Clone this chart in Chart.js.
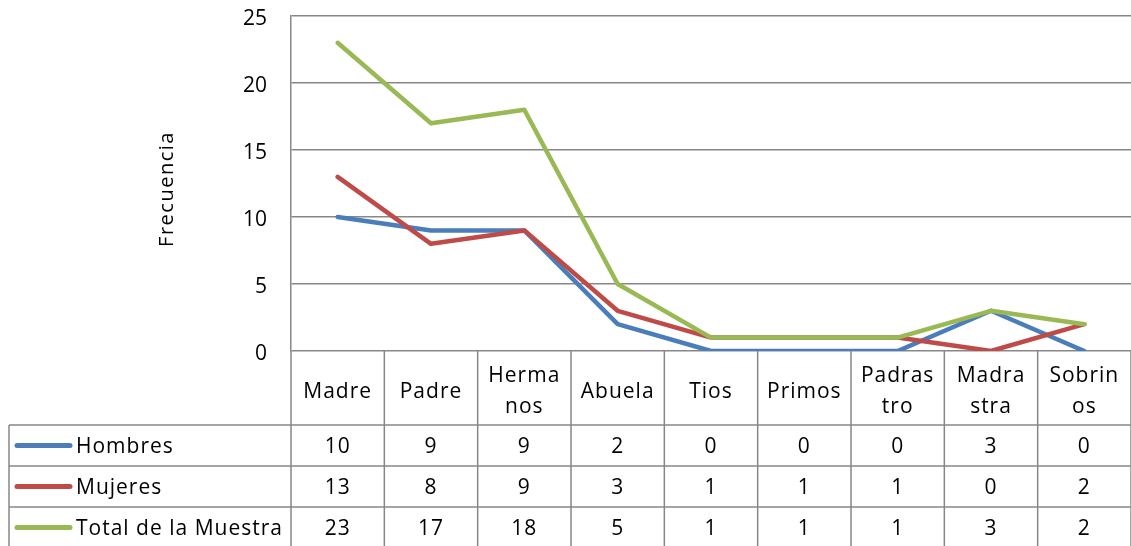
<!DOCTYPE html>
<html>
<head>
<meta charset="utf-8">
<script src="https://cdn.jsdelivr.net/npm/chart.js@4.4.1/dist/chart.umd.min.js"></script>
<style>
  html, body { margin: 0; padding: 0; background: #ffffff; }
  #wrap { width: 1131px; height: 546px; position: relative; }
</style>
</head>
<body>
<div id="wrap"><canvas id="c" width="1131" height="546"></canvas></div>
<script>
// ---- Data ----
const categories = [["Madre"], ["Padre"], ["Herma", "nos"], ["Abuela"], ["Tios"], ["Primos"], ["Padras", "tro"], ["Madra", "stra"], ["Sobrin", "os"]];
const seriesNames = ["Hombres", "Mujeres", "Total de la Muestra"];
const hombres = [10, 9, 9, 2, 0, 0, 0, 3, 0];
const mujeres = [13, 8, 9, 3, 1, 1, 1, 0, 2];
const totalMuestra = [23, 17, 18, 5, 1, 1, 1, 3, 2];
const yTicks = [0, 5, 10, 15, 20, 25];
const yTitle = "Frecuencia";

const colors = ["#4A7EBB", "#BE4B48", "#98B954"];
const seriesValues = [hombres, mujeres, totalMuestra];
const FONT = "'Open Sans', Lato, sans-serif";
const GRID = "#878787";

const tablePlugin = {
  id: "dataTable",
  afterDraw(chart) {
    const ctx = chart.ctx;
    const xs = chart.scales.x;
    const ys = chart.scales.y;
    const area = chart.chartArea;
    const top = ys.getPixelForValue(0);
    const n = categories.length;
    const step = (xs.getPixelForValue(1) - xs.getPixelForValue(0));
    const left = xs.getPixelForValue(0) - step / 2;
    const right = area.right;
    const headerBottom = top + 74;
    const rowH = 41;
    const tableLeft = 9;
    const bottom = chart.height + 2;

    ctx.save();
    ctx.strokeStyle = GRID;
    ctx.lineWidth = 1.5;
    for (let k = 0; k <= n; k++) {
      const x = left + k * step;
      ctx.beginPath();
      ctx.moveTo(x, top);
      ctx.lineTo(x, bottom);
      ctx.stroke();
    }
    ctx.beginPath();
    ctx.moveTo(tableLeft, headerBottom);
    ctx.lineTo(tableLeft, bottom);
    ctx.stroke();
    for (let r = 0; r < 3; r++) {
      const y = headerBottom + r * rowH;
      ctx.beginPath();
      ctx.moveTo(tableLeft, y);
      ctx.lineTo(right, y);
      ctx.stroke();
    }

    ctx.fillStyle = "#000";
    ctx.font = "21px " + FONT;
    try { ctx.letterSpacing = "1px"; } catch (e) {}
    ctx.textAlign = "center";
    ctx.textBaseline = "middle";
    const hc = top + 41;
    const lh = 31;
    categories.forEach((lines, i) => {
      const x = xs.getPixelForValue(i);
      const y0 = hc - (lines.length - 1) * lh / 2;
      lines.forEach((t, j) => ctx.fillText(t, x, y0 + j * lh));
    });

    seriesNames.forEach((name, r) => {
      const yc = headerBottom + r * rowH + rowH / 2;
      ctx.strokeStyle = colors[r];
      ctx.lineWidth = 5;
      ctx.lineCap = "round";
      ctx.beginPath();
      ctx.moveTo(17, yc);
      ctx.lineTo(70, yc);
      ctx.stroke();
      ctx.fillStyle = "#000";
      ctx.textAlign = "left";
      ctx.fillText(name, 76, yc + 2);
      ctx.textAlign = "center";
      seriesValues[r].forEach((v, i) => {
        ctx.fillText(String(v), xs.getPixelForValue(i), yc + 2);
      });
    });

    ctx.save();
    ctx.translate(167, 189);
    ctx.rotate(-Math.PI / 2);
    ctx.font = "20px " + FONT;
    try { ctx.letterSpacing = "1.5px"; } catch (e) {}
    ctx.textAlign = "center";
    ctx.textBaseline = "middle";
    ctx.fillStyle = "#000";
    ctx.fillText(yTitle, 0, 0);
    ctx.restore();

    ctx.restore();
  }
};

const bgPlugin = {
  id: "bg",
  beforeDraw(chart) {
    const ctx = chart.ctx;
    ctx.save();
    ctx.fillStyle = "#fff";
    ctx.fillRect(0, 0, chart.width, chart.height);
    ctx.restore();
  }
};

new Chart(document.getElementById("c"), {
  type: "line",
  data: {
    labels: categories.map(l => l.join("")),
    datasets: seriesNames.map((name, i) => ({
      label: name,
      data: seriesValues[i],
      borderColor: colors[i],
      backgroundColor: colors[i],
      borderWidth: 4.5,
      pointRadius: 0,
      tension: 0,
      borderCapStyle: "round",
      borderJoinStyle: "round",
      order: 2 - i
    }))
  },
  options: {
    responsive: false,
    animation: false,
    layout: { padding: { top: 16, bottom: 195, left: 0, right: 0 } },
    plugins: { legend: { display: false }, tooltip: { enabled: false } },
    scales: {
      x: {
        display: false,
        offset: true
      },
      y: {
        min: 0,
        max: 25,
        afterBuildTicks(scale) { scale.ticks = yTicks.map(v => ({ value: v })); },
        afterFit(scale) { scale.width = 291; scale.paddingTop = 0; scale.paddingBottom = 0; },
        ticks: { color: "#000", font: { size: 21, family: FONT }, padding: 24, labelOffset: 3 },
        grid: { color: GRID, lineWidth: 1.5, drawTicks: false },
        border: { display: true, color: GRID, width: 1.5 }
      }
    }
  },
  plugins: [bgPlugin, tablePlugin]
});
</script>
</body>
</html>
